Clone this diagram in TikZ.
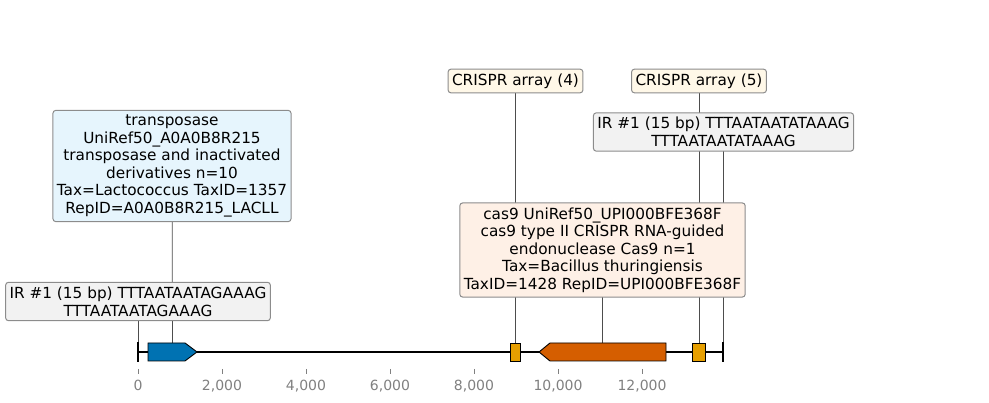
\documentclass[tikz,border=0pt]{standalone}
\usepackage{fontspec}
\setmainfont{DejaVu Sans}
\usetikzlibrary{backgrounds}
\definecolor{boxgrey}{HTML}{8C8C8C}
\definecolor{leadgrey}{HTML}{4D4D4D}
\definecolor{tickgrey}{HTML}{808080}
\definecolor{irfill}{HTML}{F2F2F2}
\definecolor{tpfill}{HTML}{E6F5FD}
\definecolor{crfill}{HTML}{FFF8E8}
\definecolor{casfill}{HTML}{FEF0E6}
\definecolor{cbblue}{HTML}{0072B2}
\definecolor{cborange}{HTML}{E69F00}
\definecolor{cbverm}{HTML}{D55E00}
\tikzset{
  lbl/.style={draw=boxgrey, rounded corners=3pt, line width=1pt, align=center,
    font=\fontsize{15.3}{17.6}\selectfont, inner xsep=4pt, inner ysep=4.5pt},
  leader/.style={draw=leadgrey, line width=0.8pt},
  feat/.style={draw=black, line width=0.9pt},
  tickmark/.style={draw=tickgrey, line width=1pt},
  ticklbl/.style={text=tickgrey, font=\fontsize{14}{16}\selectfont, inner sep=0pt}
}
\begin{document}
\begin{tikzpicture}[x=1pt,y=-1pt]
\useasboundingbox (0,0) rectangle (989,403);

% label boxes
\node[lbl, fill=irfill] (irl) at (138,301.5) {IR \#1 (15 bp) TTTAATAATAGAAAG\\TTTAATAATAGAAAG};
\node[lbl, fill=tpfill] (tp) at (172,166) {transposase\\UniRef50\_A0A0B8R215\\transposase and inactivated\\derivatives n=10\\Tax=Lactococcus TaxID=1357\\RepID=A0A0B8R215\_LACLL};
\node[lbl, fill=crfill] (cr4) at (515.5,81) {CRISPR array (4)};
\node[lbl, fill=crfill] (cr5) at (699,81) {CRISPR array (5)};
\node[lbl, fill=irfill] (irr) at (723.5,132) {IR \#1 (15 bp) TTTAATAATATAAAG\\TTTAATAATATAAAG};
\node[lbl, fill=casfill] (cas) at (602.5,250) {cas9 UniRef50\_UPI000BFE368F\\cas9 type II CRISPR RNA-guided\\endonuclease Cas9 n=1\\Tax=Bacillus thuringiensis\\TaxID=1428 RepID=UPI000BFE368F};

% feature anchor points
\coordinate (pirl) at (138,352);
\coordinate (ptp) at (172.5,352);
\coordinate (pcr4) at (515.5,352);
\coordinate (pcr5) at (699,352);
\coordinate (pirr) at (723,352);
\coordinate (pcas) at (602.5,352);

\begin{scope}[on background layer]
  \draw[leader] (irl.center) -- (pirl);
  \draw[leader] (tp.center) -- (ptp);
  \draw[leader] (cr4.center) -- (pcr4);
  \draw[leader] (cr5.center) -- (pcr5);
  \draw[leader] (irr.center -| pirr) -- (pirr);
  \draw[leader] (cas.center) -- (pcas);
\end{scope}

% axis line and features
\draw[line width=1.6pt] (138,352) -- (723,352);
\draw[line width=1.2pt] (138,342) -- (138,362);
\draw[line width=1.2pt] (723,342) -- (723,362);
\draw[feat, fill=cbblue] (148,343) -- (185,343) -- (197,352) -- (185,361) -- (148,361) -- cycle;
\draw[feat, fill=cbverm] (666,343) -- (550,343) -- (539,352) -- (550,361) -- (666,361) -- cycle;
\draw[feat, fill=cborange] (510.5,343) rectangle (520.5,361);
\draw[feat, fill=cborange] (692.5,343) rectangle (705,361);

% axis ticks
\foreach \x/\t in {138/0, 222/{2,000}, 306/{4,000}, 390/{6,000}, 474/{8,000}, 558/{10,000}, 642/{12,000}} {
  \draw[tickmark] (\x,369) -- (\x,374);
  \node[ticklbl, anchor=base] at (\x,391) {\t};
}
\end{tikzpicture}
\end{document}
